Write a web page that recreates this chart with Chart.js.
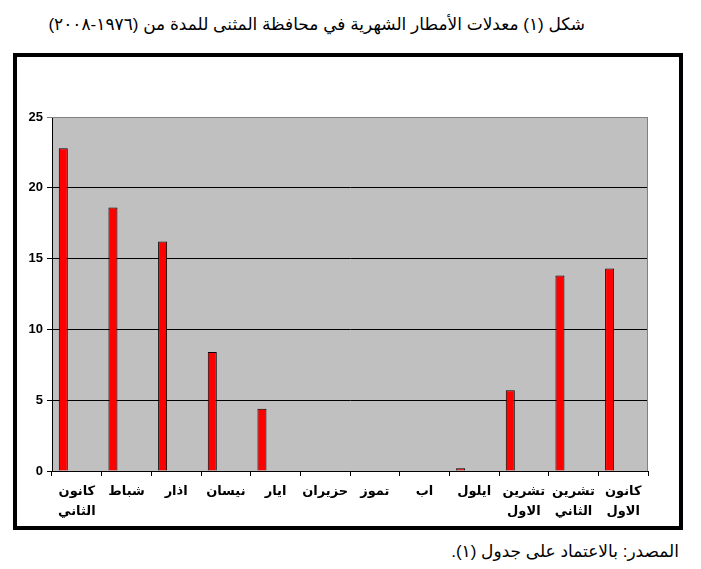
<!DOCTYPE html>
<html>
<head>
<meta charset="utf-8">
<script src="https://cdn.jsdelivr.net/npm/chart.js@4.4.0/dist/chart.umd.min.js"></script>
<style>
  body { margin: 0; background: #fff; width: 701px; height: 569px; position: relative; overflow: hidden; }
  #titulo { position: absolute; top: 14px; right: 116px; font: 17px Arial, "Liberation Sans", "DejaVu Sans", sans-serif; direction: rtl; white-space: nowrap; color: #000; }
  #marco { position: absolute; left: 13px; top: 53px; width: 662px; height: 469px; border: 4px solid #000; }
  #fuente { position: absolute; top: 541px; right: 22px; font: 17px Arial, "Liberation Sans", "DejaVu Sans", sans-serif; direction: rtl; white-space: nowrap; color: #000; }
</style>
</head>
<body>
<div id="titulo">شكل (١) معدلات الأمطار الشهرية في محافظة المثنى للمدة من (١٩٧٦-٢٠٠٨)</div>
<div id="marco"><canvas id="grafica" width="662" height="469"></canvas></div>
<div id="fuente">المصدر:  بالاعتماد على جدول (١).</div>
<script>
// meses (de izquierda a derecha)
var meses = [
  ['كانون', 'الثاني'], 'شباط', 'اذار', 'نيسان', 'ايار', 'حزيران',
  'تموز', 'اب', 'ايلول', ['تشرين', 'الاول'], ['تشرين', 'الثاني'], ['كانون', 'الاول']
];
// lluvia media mensual
var lluvia = [22.8, 18.6, 16.2, 8.4, 4.4, 0, 0, 0, 0.2, 5.7, 13.8, 14.3];
var ticksY = [0, 5, 10, 15, 20, 25];

var fondoGris = {
  id: 'fondoGris',
  beforeDraw: function (chart) {
    var a = chart.chartArea, ctx = chart.ctx;
    ctx.save();
    ctx.fillStyle = '#c0c0c0';
    ctx.fillRect(a.left, a.top, a.right - a.left, a.bottom - a.top);
    ctx.restore();
  },
  afterDatasetsDraw: function (chart) {
    var a = chart.chartArea, ctx = chart.ctx;
    ctx.save();
    ctx.strokeStyle = '#808080';
    ctx.lineWidth = 1;
    ctx.beginPath();
    ctx.moveTo(a.left, a.top + 0.5);
    ctx.lineTo(a.right - 0.5, a.top + 0.5);
    ctx.lineTo(a.right - 0.5, a.bottom);
    ctx.stroke();
    ctx.restore();
  }
};

var vacio = function () {
  return { data: [], backgroundColor: '#ff0000', borderColor: '#000', borderWidth: 1 };
};

var ctx = document.getElementById('grafica');
var mychart = new Chart(ctx, {
  type: 'bar',
  data: {
    labels: meses,
    datasets: [{
      label: 'الأمطار',
      data: lluvia,
      backgroundColor: '#ff0000',
      borderColor: '#000000',
      borderWidth: 1
    }, vacio(), vacio(), vacio()]
  },
  options: {
    responsive: false,
    animation: false,
    categoryPercentage: 4 / 5.5,
    barPercentage: 1,
    layout: { padding: { top: 60, right: 31, left: 0, bottom: 0 } },
    plugins: { legend: { display: false }, tooltip: { enabled: false } },
    scales: {
      x: {
        offset: true,
        grid: { offset: true, drawOnChartArea: false, drawTicks: true, tickLength: 5, color: '#000' },
        border: { color: '#000', width: 1 },
        ticks: {
          color: '#000',
          maxRotation: 0,
          autoSkip: false,
          padding: 6,
          font: { family: 'Arial, "Liberation Sans", "DejaVu Sans"', size: 13, weight: 'bold', lineHeight: 1.5 }
        },
        afterFit: function (s) { s.height = 55; }
      },
      y: {
        min: 0,
        max: 25,
        afterBuildTicks: function (s) { s.ticks = ticksY.map(function (v) { return { value: v }; }); },
        grid: {
          color: function (c) { return c.tick && c.tick.value === 25 ? '#808080' : '#000'; },
          tickLength: 5,
          lineWidth: 1
        },
        border: { color: '#000', width: 1 },
        ticks: {
          color: '#000',
          padding: 4,
          font: { family: 'Arial, "Liberation Sans"', size: 13, weight: 'bold' }
        },
        afterFit: function (s) { s.width = 35; }
      }
    }
  },
  plugins: [fondoGris]
});
</script>
</body>
</html>
